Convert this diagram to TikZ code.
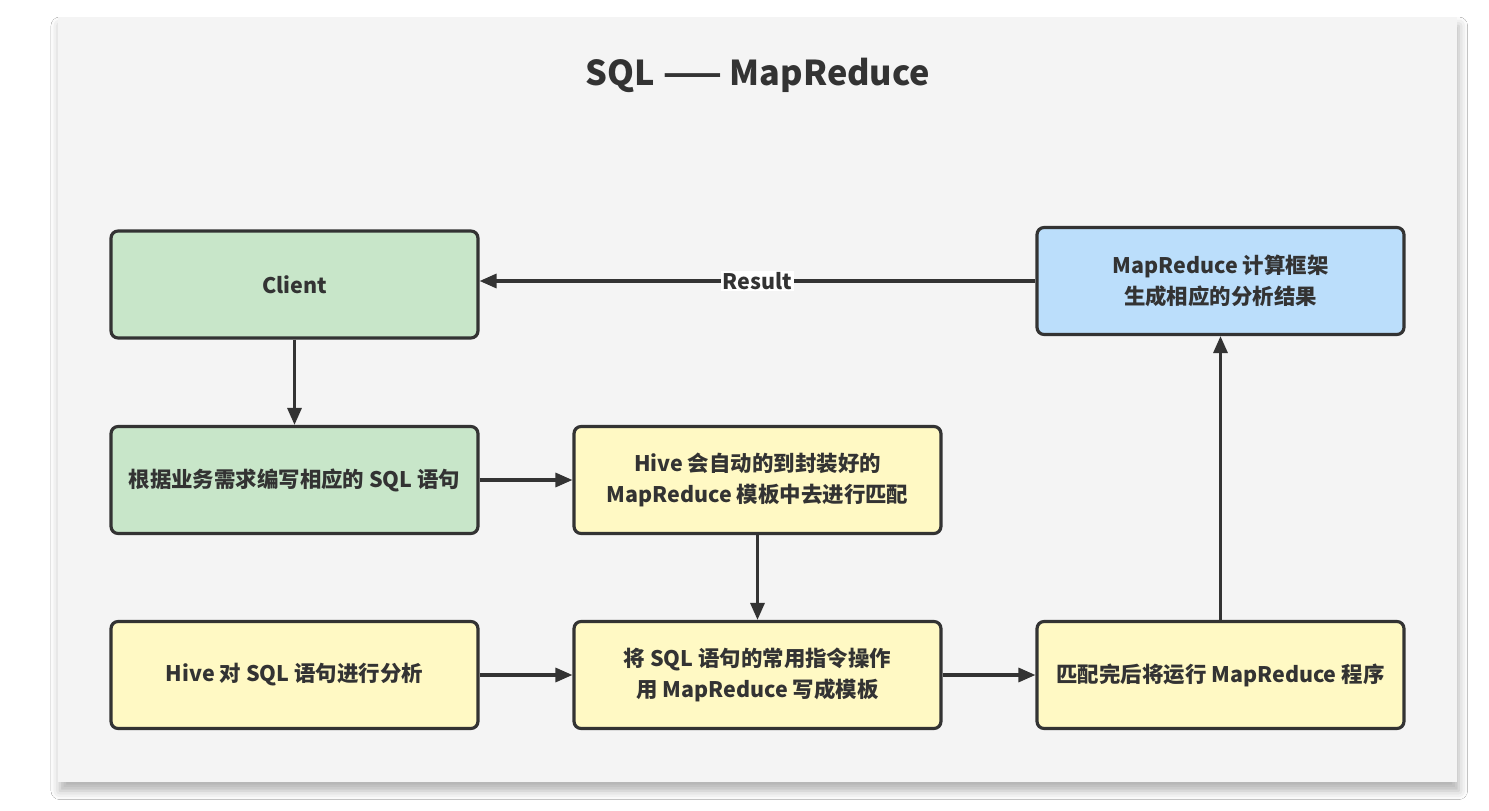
\documentclass[tikz,border=0pt]{standalone}
\usepackage{fontspec}
\setmainfont{Noto Sans CJK SC}
\usepackage{xcolor}
\usepackage{tikz}
\usetikzlibrary{arrows.meta,positioning,shadows.blur}
\definecolor{hmInk}{HTML}{333333}
\definecolor{hmPanel}{HTML}{F4F4F4}
\definecolor{hmGreen}{HTML}{C8E6C9}
\definecolor{hmBlue}{HTML}{BBDEFB}
\definecolor{hmYellow}{HTML}{FFF9C4}
\tikzset{
  hm diagram/.style={font=\bfseries\fontsize{12.2}{18}\selectfont, text=hmInk,
    line join=round},
  hm box/.style={draw=hmInk, line width=1.8pt, rounded corners=4pt,
    minimum width=7.34cm, minimum height=2.14cm, align=center, inner sep=2pt},
  hm client box/.style={hm box, fill=hmGreen},
  hm hive box/.style={hm box, fill=hmYellow},
  hm mr box/.style={hm box, fill=hmBlue},
  hm arrow/.style={-{Triangle[length=3.4mm,width=2.8mm]}, draw=hmInk, line width=1.8pt},
  hm label/.style={fill=white, inner sep=1pt},
  hm panel/.style={fill=hmPanel, blur shadow={shadow xshift=1pt, shadow yshift=-5pt,
    shadow blur radius=5pt, shadow opacity=30}}
}
\begin{document}
\begin{tikzpicture}[hm diagram, x=0.02cm, y=-0.02cm]
\useasboundingbox (0,0) rectangle (1489,811);
\fill[white] (0,0) rectangle (1489,811);
\path[hm panel] (58,17) rectangle (1457,782);
\node[font=\bfseries\fontsize{19.5}{22}\selectfont] (title) at (758,75) {SQL —— MapReduce};
% first column
\node[hm client box] (client) at (294.5,284.5) {Client};
\node[hm client box] (sql) at (294.5,480) {根据业务需求编写相应的 SQL 语句};
\node[hm hive box] (parse) at (294.5,675) {Hive 对 SQL 语句进行分析};
% second column
\node[hm hive box] (match) at (757.5,480) {Hive 会自动的到封装好的\\MapReduce 模板中去进行匹配};
\node[hm hive box] (tmpl) at (757.5,675) {将 SQL 语句的常用指令操作\\用 MapReduce 写成模板};
% third column
\node[hm hive box] (run) at (1220.5,675) {匹配完后将运行 MapReduce 程序};
\node[hm mr box] (result) at (1220.5,281) {MapReduce 计算框架\\生成相应的分析结果};
\draw[hm arrow] (client) -- (sql);
\draw[hm arrow] (sql) -- (match);
\draw[hm arrow] (match) -- (tmpl);
\draw[hm arrow] (parse) -- (tmpl);
\draw[hm arrow] (tmpl) -- (run);
\draw[hm arrow] (run) -- (result);
\draw[hm arrow] (result.west) -- node[hm label] {Result} (client.east |- result.west);
\end{tikzpicture}
\end{document}
